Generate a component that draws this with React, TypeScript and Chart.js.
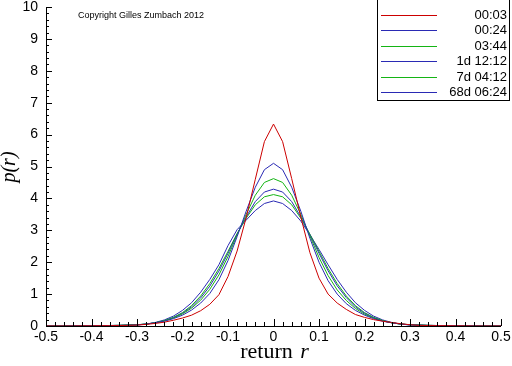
import React, { useEffect, useRef } from "react";
import { Chart, registerables } from "chart.js";

Chart.register(...registerables);

const RETURNS = [
  -0.5, -0.48, -0.46, -0.44, -0.42, -0.4, -0.38, -0.36, -0.34, -0.32,
  -0.3, -0.28, -0.26, -0.24, -0.22, -0.2, -0.18, -0.16, -0.14, -0.12,
  -0.1, -0.08, -0.06, -0.04, -0.02, 0, 0.02, 0.04, 0.06, 0.08,
  0.1, 0.12, 0.14, 0.16, 0.18, 0.2, 0.22, 0.24, 0.26, 0.28,
  0.3, 0.32, 0.34, 0.36, 0.38, 0.4, 0.42, 0.44, 0.46, 0.48, 0.5,
];

const P_0003 = [
  0, 0, 0, 0, 0.005, 0.005, 0.01, 0.01, 0.015, 0.02,
  0.03, 0.05, 0.08, 0.12, 0.18, 0.25, 0.34, 0.48, 0.68, 0.98,
  1.55, 2.35, 3.4, 4.6, 5.78, 6.33, 5.78, 4.62, 3.42, 2.3,
  1.5, 1.0, 0.72, 0.52, 0.36, 0.27, 0.2, 0.15, 0.11, 0.07,
  0.04, 0.02, 0.015, 0.01, 0.01, 0.005, 0.005, 0, 0, 0, 0,
];
const P_0024 = [
  0, 0, 0, 0.005, 0.005, 0.01, 0.01, 0.015, 0.02, 0.025,
  0.035, 0.06, 0.1, 0.15, 0.23, 0.34, 0.5, 0.72, 1.02, 1.45,
  2.05, 2.8, 3.6, 4.35, 4.9, 5.1, 4.9, 4.35, 3.6, 2.75,
  2.0, 1.42, 1.0, 0.7, 0.49, 0.34, 0.23, 0.15, 0.1, 0.06,
  0.035, 0.025, 0.02, 0.015, 0.01, 0.01, 0.005, 0.005, 0, 0, 0,
];
const P_0344 = [
  0, 0, 0, 0.005, 0.005, 0.01, 0.01, 0.015, 0.02, 0.03,
  0.04, 0.06, 0.1, 0.16, 0.25, 0.38, 0.56, 0.81, 1.15, 1.6,
  2.18, 2.85, 3.5, 4.1, 4.5, 4.62, 4.5, 4.1, 3.5, 2.82,
  2.15, 1.58, 1.13, 0.8, 0.55, 0.37, 0.25, 0.16, 0.1, 0.06,
  0.04, 0.03, 0.02, 0.015, 0.01, 0.01, 0.005, 0.005, 0, 0, 0,
];
const P_1D = [
  0, 0, 0, 0.005, 0.005, 0.01, 0.01, 0.015, 0.02, 0.03,
  0.04, 0.06, 0.1, 0.16, 0.26, 0.4, 0.6, 0.88, 1.25, 1.72,
  2.28, 2.88, 3.42, 3.9, 4.2, 4.29, 4.2, 3.9, 3.42, 2.86,
  2.28, 1.73, 1.26, 0.89, 0.6, 0.4, 0.26, 0.16, 0.1, 0.06,
  0.04, 0.03, 0.02, 0.015, 0.01, 0.01, 0.005, 0.005, 0, 0, 0,
];
const P_7D = [
  0, 0, 0, 0.005, 0.005, 0.01, 0.01, 0.015, 0.02, 0.03,
  0.04, 0.06, 0.1, 0.17, 0.27, 0.42, 0.64, 0.94, 1.33, 1.8,
  2.34, 2.9, 3.38, 3.8, 4.05, 4.12, 4.05, 3.8, 3.38, 2.88,
  2.34, 1.8, 1.33, 0.94, 0.64, 0.42, 0.27, 0.17, 0.1, 0.06,
  0.04, 0.03, 0.02, 0.015, 0.01, 0.01, 0.005, 0.005, 0, 0, 0,
];
const P_68D = [
  0, 0, 0, 0.005, 0.005, 0.01, 0.01, 0.01, 0.015, 0.02,
  0.03, 0.06, 0.11, 0.19, 0.31, 0.49, 0.73, 1.06, 1.46, 1.92,
  2.52, 3.02, 3.32, 3.62, 3.84, 3.92, 3.84, 3.62, 3.29, 2.86,
  2.4, 1.92, 1.46, 1.06, 0.73, 0.49, 0.31, 0.19, 0.11, 0.06,
  0.03, 0.02, 0.015, 0.01, 0.01, 0.01, 0.005, 0.005, 0, 0, 0,
];

const SERIES_LABELS = ["00:03", "00:24", "03:44", "1d 12:12", "7d 04:12", "68d 06:24"];
const SERIES_VALUES = [P_0003, P_0024, P_0344, P_1D, P_7D, P_68D];
const SERIES_COLORS = ["#cc0000", "#2a2ab4", "#14b414", "#2a2ab4", "#14b414", "#2a2ab4"];

const X_MIN = -0.5;
const X_MAX = 0.5;
const Y_MIN = 0;
const Y_MAX = 10;

const SANS = "'Liberation Sans', Arial, sans-serif";
const SERIF = "'Liberation Serif', 'Times New Roman', serif";

const decorPlugin = {
  id: "decor",
  afterDraw(chart: any) {
    const ctx = chart.ctx as CanvasRenderingContext2D;
    const xs = chart.scales.x;
    const ys = chart.scales.y;
    const area = chart.chartArea;
    ctx.save();
    ctx.strokeStyle = "#000";
    ctx.lineWidth = 1;
    // axis lines
    ctx.beginPath();
    ctx.moveTo(Math.round(area.left) + 0.5, area.top);
    ctx.lineTo(Math.round(area.left) + 0.5, Math.round(area.bottom) + 0.5);
    ctx.lineTo(area.right, Math.round(area.bottom) + 0.5);
    ctx.stroke();
    // x ticks (inside)
    ctx.beginPath();
    for (let i = 0; i <= 50; i++) {
      const v = X_MIN + (i * (X_MAX - X_MIN)) / 50;
      const px = Math.round(xs.getPixelForValue(v)) + 0.5;
      const len = i % 5 === 0 ? 7 : 4;
      ctx.moveTo(px, Math.round(area.bottom));
      ctx.lineTo(px, Math.round(area.bottom) - len);
    }
    // y ticks (inside)
    for (let i = 0; i <= 50; i++) {
      const v = Y_MIN + (i * (Y_MAX - Y_MIN)) / 50;
      const py = Math.round(ys.getPixelForValue(v)) + 0.5;
      const len = i % 5 === 0 ? 6 : 3;
      ctx.moveTo(Math.round(area.left), py);
      ctx.lineTo(Math.round(area.left) + len, py);
    }
    ctx.stroke();

    // axis titles
    ctx.fillStyle = "#000";
    ctx.textBaseline = "alphabetic";
    ctx.font = `22px ${SERIF}`;
    const w1 = ctx.measureText("return ").width;
    ctx.font = `italic 22px ${SERIF}`;
    const w2 = ctx.measureText("r").width;
    const cx = (area.left + area.right) / 2;
    const startX = cx - (w1 + w2) / 2;
    ctx.font = `22px ${SERIF}`;
    ctx.textAlign = "left";
    ctx.fillText("return ", startX, 358);
    ctx.font = `italic 22px ${SERIF}`;
    ctx.fillText("r", startX + w1 + 2, 358);

    ctx.save();
    ctx.translate(15, 167);
    ctx.rotate(-Math.PI / 2);
    ctx.font = `italic 20px ${SERIF}`;
    ctx.textAlign = "center";
    ctx.fillText("p(r)", 0, 0);
    ctx.restore();

    // copyright
    ctx.font = `9px ${SANS}`;
    ctx.textAlign = "left";
    ctx.textBaseline = "middle";
    ctx.fillText("Copyright Gilles Zumbach 2012", 78, 16);

    // legend
    const bx = 377.5, by = -0.5, bw = 132, bh = 101;
    ctx.fillStyle = "#fff";
    ctx.fillRect(bx, by, bw, bh);
    ctx.strokeStyle = "#000";
    ctx.strokeRect(bx, by, bw, bh);
    ctx.font = `13px ${SANS}`;
    ctx.textAlign = "right";
    ctx.textBaseline = "middle";
    chart.data.datasets.forEach((ds: any, i: number) => {
      const y = Math.round(15 + i * 15.4) + 0.5;
      ctx.strokeStyle = SERIES_COLORS[i];
      ctx.beginPath();
      ctx.moveTo(381, y);
      ctx.lineTo(437, y);
      ctx.stroke();
      ctx.fillStyle = "#000";
      ctx.fillText(ds.label, 507, y);
    });
    ctx.restore();
  },
};

export default function App() {
  const ref = useRef<HTMLCanvasElement | null>(null);
  useEffect(() => {
    if (!ref.current) return;
    const chart = new Chart(ref.current, {
      type: "line",
      data: {
        datasets: SERIES_LABELS.map((label, i) => ({
          label,
          data: RETURNS.map((x, j) => ({ x, y: SERIES_VALUES[i][j] })),
          borderColor: SERIES_COLORS[i],
          backgroundColor: SERIES_COLORS[i],
          borderWidth: 1,
          pointRadius: 0,
          tension: 0,
          fill: false,
        })),
      },
      options: {
        animation: false,
        responsive: false,
        devicePixelRatio: 1,
        layout: { padding: { top: 7, right: 11, left: 0, bottom: 0 } },
        plugins: {
          legend: { display: false },
          tooltip: { enabled: false },
          title: { display: false },
        },
        scales: {
          x: {
            type: "linear",
            min: X_MIN,
            max: X_MAX,
            grid: { display: false, drawTicks: false },
            border: { display: false },
            ticks: {
              stepSize: 0.1,
              autoSkip: false,
              maxRotation: 0,
              padding: 3,
              color: "#000",
              font: { family: SANS, size: 14 },
              callback: (v: any) => {
                const r = Math.round(Number(v) * 10) / 10;
                return r === 0 ? "0" : String(r);
              },
            },
            afterFit: (s: any) => {
              s.height = 40;
              s.paddingLeft = 0;
              s.paddingRight = 0;
            },
          },
          y: {
            type: "linear",
            min: Y_MIN,
            max: Y_MAX,
            grid: { display: false, drawTicks: false },
            border: { display: false },
            ticks: {
              stepSize: 1,
              padding: 8,
              color: "#000",
              font: { family: SANS, size: 14 },
            },
            afterFit: (s: any) => {
              s.width = 46;
              s.paddingTop = 0;
              s.paddingBottom = 0;
            },
          },
        },
      },
      plugins: [decorPlugin],
    } as any);
    return () => chart.destroy();
  }, []);
  return (
    <div style={{ position: "absolute", left: 0, top: 0, width: 512, height: 366, background: "#fff" }}>
      <canvas ref={ref} width={512} height={366} style={{ display: "block" }} />
    </div>
  );
}
